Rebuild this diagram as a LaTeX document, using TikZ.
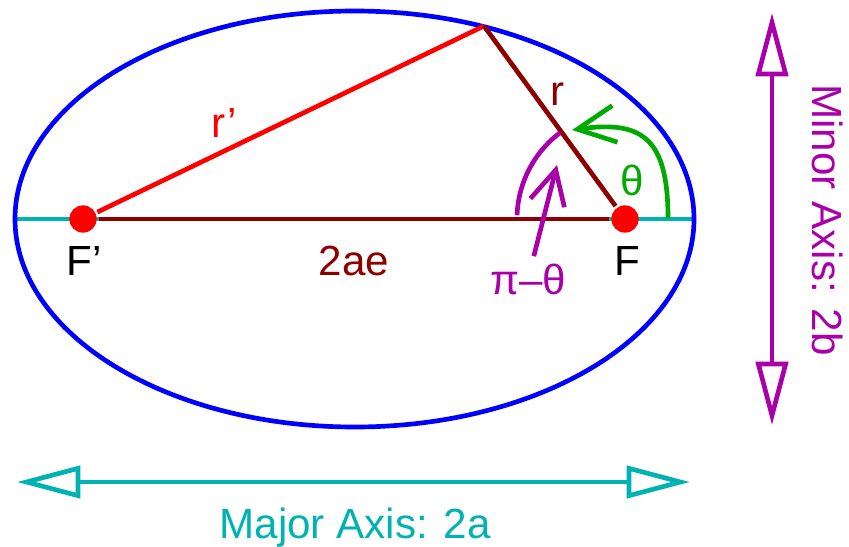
\documentclass[tikz,border=0pt]{standalone}
\usepackage{fontspec}
\setmainfont{Liberation Sans}
\usetikzlibrary{arrows.meta}
\definecolor{orbitred}{RGB}{140,0,0}
\definecolor{axiscyan}{RGB}{0,178,178}
\definecolor{axismagenta}{RGB}{170,0,170}
\definecolor{anglegreen}{RGB}{0,170,0}
\begin{document}
\begin{tikzpicture}[x=0.03cm, y=0.03cm, line width=0.14cm,
    font=\fontsize{36}{40}\selectfont,
    focus/.style={circle, fill=red, inner sep=0pt, minimum size=0.82cm},
    lbl/.style={anchor=base, inner sep=0pt},
    axisarrow/.style={{Triangle[open, length=1.9cm, width=0.96cm]}-{Triangle[open, length=1.9cm, width=0.96cm]}}]
  \useasboundingbox (0,0) rectangle (849,546);
  % major axis through the foci, then the orbit
  \draw[axiscyan, line width=0.12cm] (15,327) -- (694,327);
  \draw[blue] (354.5,327) ellipse [x radius=339.5, y radius=208];
  \foreach \n/\x in {Fp/83, F/625} {
    \node[focus] (\n) at (\x,327) {};
  }
  \coordinate (P) at (484,520);
  \draw[orbitred] (Fp) -- (F);
  \draw[red] (Fp) -- (P);
  \draw[orbitred] (P) -- (F);
  % angles at F
  \draw[axismagenta] (F.center) ++(178:108) arc[start angle=178, end angle=127, radius=108];
  \draw[anglegreen, -{Straight Barb[length=1.14cm, width=1.11cm]}]
    (668,328) .. controls (668,408) and (642,426) .. (572,416);
  % labels
  \node[lbl] (Fplbl) at (84,271) {F’};
  \node[lbl] (Flbl) at (627,271) {F};
  \node[lbl, orbitred] (distlbl) at (354,271) {2ae};
  \node[lbl, red] (rplbl) at (224,409) {r’};
  \node[lbl, orbitred] (rlbl) at (558,441) {r};
  \node[anglegreen, inner sep=0pt] (thetalbl) at (632,366) {θ};
  \node[axismagenta, inner sep=0.15cm] (pilbl) at (528,267) {π–θ};
  \coordinate (pitip) at (557,381);
  \draw[axismagenta, -{Straight Barb[length=1.02cm, width=1.05cm]}] (pilbl) -- (pitip);
  % axis arrows
  \coordinate (majL) at (17,64);
  \coordinate (majR) at (690,64);
  \draw[axiscyan, axisarrow] (majL) -- (majR);
  \node[lbl, axiscyan] (majlbl) at (355,8) {Major Axis: 2a};
  \coordinate (minT) at (772,533);
  \coordinate (minB) at (772,121);
  \draw[axismagenta, axisarrow] (minT) -- (minB);
  \node[lbl, axismagenta, rotate=-90] (minlbl) at (812,326) {Minor Axis: 2b};
\end{tikzpicture}
\end{document}
